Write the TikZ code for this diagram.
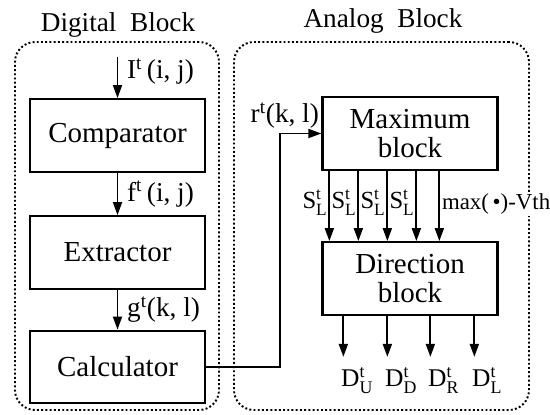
\documentclass[tikz,border=0pt]{standalone}
\usepackage{fontspec}
\setmainfont{Liberation Serif}
\usepackage{tikz}
\usetikzlibrary{positioning,arrows.meta}

\begin{document}
\begin{tikzpicture}[
  blk/.style={draw, line width=1.3pt, align=center, minimum width=3.5cm, minimum height=1.45cm,
              font=\fontsize{16.5}{16.5}\selectfont},
  grp/.style={draw, line width=1.1pt, dash pattern=on 1.1pt off 1.3pt, rounded corners=0.4cm,
              minimum height=7.36cm},
  ttl/.style={font=\fontsize{15.5}{17}\selectfont},
  arr/.style={-{Triangle[length=2.6mm,width=1.8mm]}, line width=1pt},
  lab/.style={font=\fontsize{15.5}{17}\selectfont, inner sep=1pt},
  slab/.style={font=\fontsize{14}{15}\selectfont, inner sep=0.5pt},
  mlab/.style={font=\fontsize{13}{14}\selectfont, inner sep=1pt},
  dlab/.style={font=\fontsize{14.5}{15}\selectfont, inner sep=0pt},
]
\useasboundingbox (0,0) rectangle (11,8.28);

\node[grp, minimum width=4.08cm] (dig) at (2.34,3.76) {};
\node[grp, minimum width=5.90cm] (ana) at (7.63,3.76) {};
\node[ttl, anchor=base] (digt) at (2.36,7.64) {Digital\enspace Block};
\node[ttl, anchor=base] (anat) at (7.66,7.72) {Analog\enspace Block};

\node[blk] (cmp)  at (2.35,5.57) {Comparator};
\node[blk] (ext)  at (2.35,3.23) {Extractor};
\node[blk] (calc) at (2.35,0.94) {Calculator};
\node[blk] (max)  at (8.20,5.61) {Maximum\\block};
\node[blk] (dir)  at (8.20,2.71) {Direction\\block};
\coordinate (in) at (2.35,7.14);

\draw[arr] (in) -- node[lab, right, pos=0.36, xshift=4pt] {$\mathrm{I}^{\mathrm{t}}$\,(i, j)} (cmp);
\draw[arr] (cmp) -- node[lab, right, xshift=4pt] {$\mathrm{f}^{\mathrm{t}}$\,(i, j)} (ext);
\draw[arr] (ext) -- node[lab, right, xshift=4pt] {$\mathrm{g}^{\mathrm{t}}$(k, l)} (calc);
\draw[arr] (calc.east) -- ++(1.48,0) |- (max.west);
\node[lab, anchor=base east] (rlab) at (6.42,5.82) {$\mathrm{r}^{\mathrm{t}}$(k, l)};

\foreach \d in {0.16,0.74,1.32,1.90}
  \draw[arr] ([xshift=\d cm]max.south west) -- node[slab, left, pos=0.45] {$\mathrm{S}^{\mathrm{t}}_{\mathrm{L}}$} ([xshift=\d cm]dir.north west);
\draw[arr] ([xshift=2.36cm]max.south west) -- node[mlab, right, pos=0.47, fill=white] {max(\,•)-Vth} ([xshift=2.36cm]dir.north west);

\foreach \d/\s in {0.44/U,1.32/D,2.18/R,3.06/L}
  \draw[arr] ([xshift=\d cm]dir.south west) -- ++(0,-0.82)
    node[dlab, anchor=north west, xshift=-0.06cm, yshift=-0.2cm] {$\mathrm{D}^{\mathrm{t}}_{\mathrm{\s}}$};
\end{tikzpicture}
\end{document}
